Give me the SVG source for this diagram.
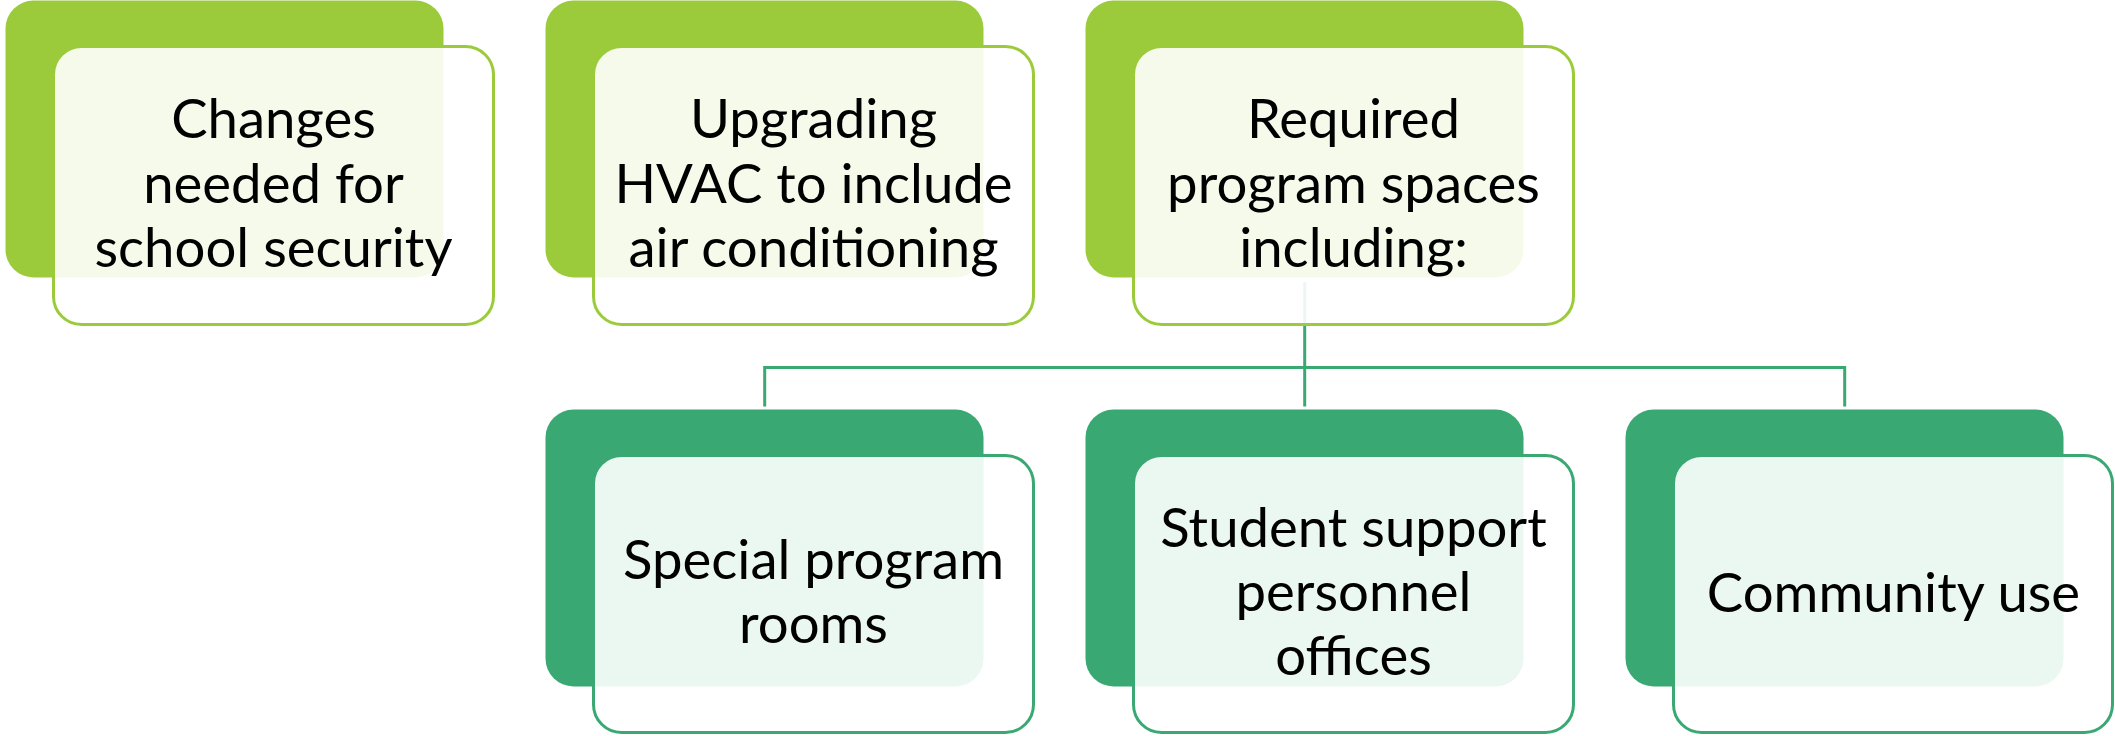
<svg xmlns="http://www.w3.org/2000/svg" width="2115" height="736" viewBox="0 0 2115 736">
  <style>
    .back-top { fill: #9BCB3B; }
    .back-bot { fill: #3AA873; }
    .front { fill: #FFFFFF; fill-opacity: 0.9; stroke-width: 3; }
    .front-top { stroke: #9BCB3B; }
    .front-bot { stroke: #3AA873; }
    .wire { fill: none; stroke: #3AA873; stroke-width: 3; }
    .label { font-family: Lato, "Open Sans", "Liberation Sans", sans-serif; font-size: 54.5px; fill: #000000; text-anchor: middle; }
  </style>

  <!-- background plates -->
  <g id="plates">
    <rect class="back-top" x="5.5" y="0.5" width="438" height="277" rx="28"/>
    <rect class="back-top" x="545.5" y="0.5" width="438" height="277" rx="28"/>
    <rect class="back-top" x="1085.5" y="0.5" width="438" height="277" rx="28"/>
    <rect class="back-bot" x="545.5" y="409.5" width="438" height="277" rx="28"/>
    <rect class="back-bot" x="1085.5" y="409.5" width="438" height="277" rx="28"/>
    <rect class="back-bot" x="1625.5" y="409.5" width="438" height="277" rx="28"/>
  </g>

  <!-- tree connectors -->
  <g id="connectors">
    <path class="wire" d="M1304.7 282 V406.5"/>
    <path class="wire" d="M764.7 406.5 V367.5 H1844.7 V406.5"/>
  </g>

  <g id="node-security">
    <rect class="front front-top" x="53.5" y="46.5" width="440" height="278" rx="28"/>
    <text class="label" x="273.5" y="138.3">Changes</text>
    <text class="label" x="273.5" y="202.5">needed for</text>
    <text class="label" x="273.5" y="266.7">school security</text>
  </g>

  <g id="node-hvac">
    <rect class="front front-top" x="593.5" y="46.5" width="440" height="278" rx="28"/>
    <text class="label" x="813.5" y="138.3">Upgrading</text>
    <text class="label" x="813.5" y="202.5">HVAC to include</text>
    <text class="label" x="813.5" y="266.7">air conditioning</text>
  </g>

  <g id="node-spaces">
    <rect class="front front-top" x="1133.5" y="46.5" width="440" height="278" rx="28"/>
    <text class="label" x="1353.5" y="138.3">Required</text>
    <text class="label" x="1353.5" y="202.5">program spaces</text>
    <text class="label" x="1353.5" y="266.7">including:</text>
  </g>

  <g id="node-special">
    <rect class="front front-bot" x="593.5" y="455.5" width="440" height="277" rx="28"/>
    <text class="label" x="813.5" y="578.5">Special program</text>
    <text class="label" x="813.5" y="642.7">rooms</text>
  </g>

  <g id="node-support">
    <rect class="front front-bot" x="1133.5" y="455.5" width="440" height="277" rx="28"/>
    <text class="label" x="1353.5" y="546.5">Student support</text>
    <text class="label" x="1353.5" y="610.7">personnel</text>
    <text class="label" x="1353.5" y="675">offices</text>
  </g>

  <g id="node-community">
    <rect class="front front-bot" x="1673.5" y="455.5" width="439" height="277" rx="28"/>
    <text class="label" x="1893.5" y="611.5">Community use</text>
  </g>
</svg>
